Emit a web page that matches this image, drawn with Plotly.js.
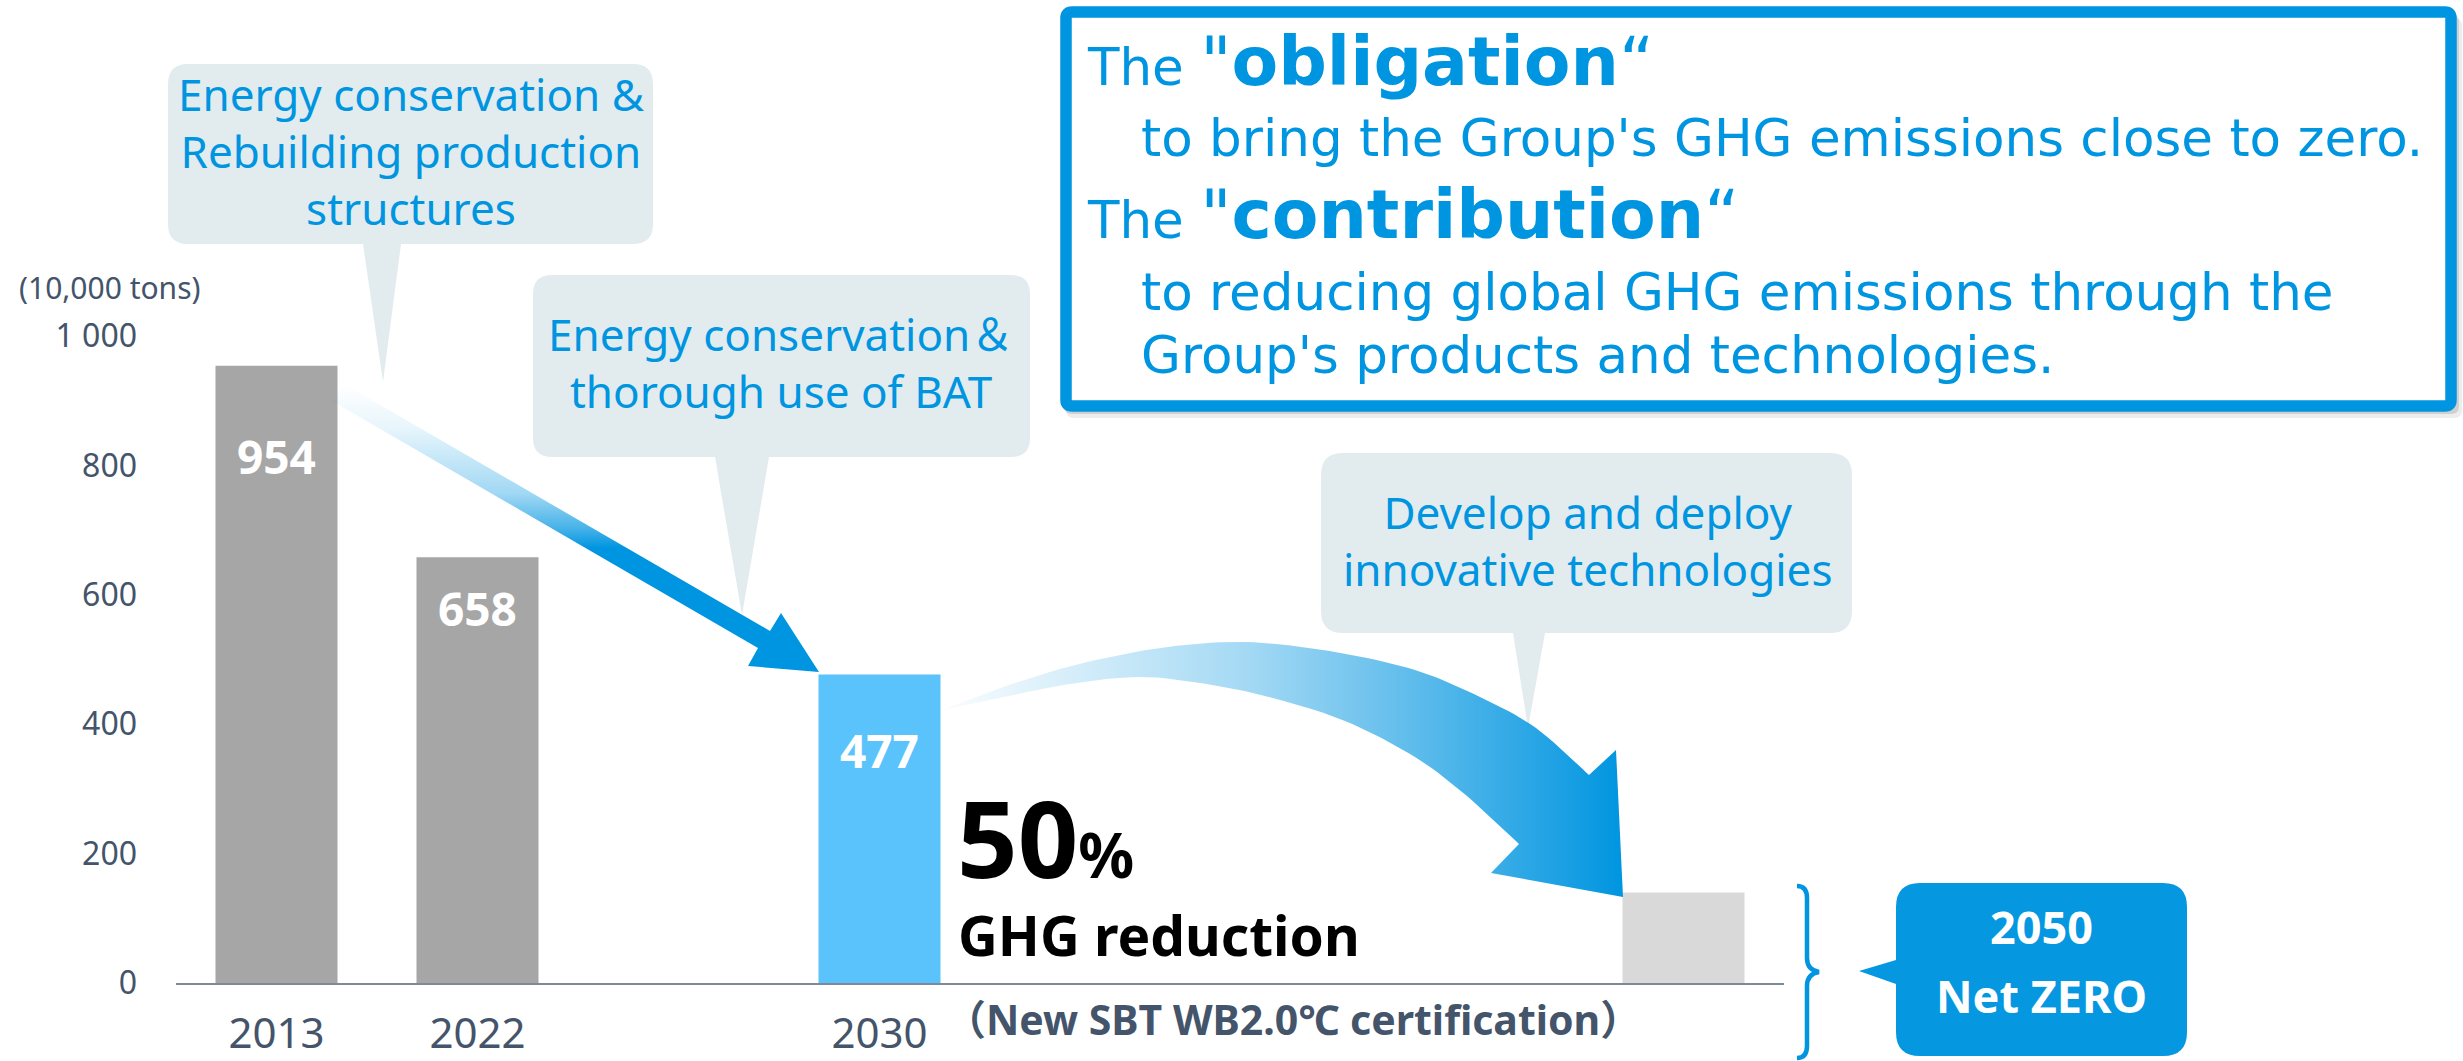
<!DOCTYPE html>
<html>
<head>
<meta charset="utf-8">
<script src="https://cdn.plot.ly/plotly-3.0.1.min.js"></script>
<style>
  html, body { margin: 0; padding: 0; background: #ffffff; }
  #chart { width: 2463px; height: 1061px; }
</style>
</head>
<body>
<div id="chart"></div>
<script>
// ---------------- DATA ----------------
const years = ['2013', '2022', '2030', '2050'];
const emissions = [954, 658, 477, 140];            // 10,000 tons
const valueLabels = ['954', '658', '477', ''];
const yTickVals = [0, 200, 400, 600, 800, 1000];
const yTickText = ['0', '200', '400', '600', '800', '1 000'];
const xTickYears = ['2013', '2022', '2030'];
const unitLabel = '(10,000 tons)';

// ---------------- STYLE ----------------
const W = 2463, H = 1061;
const FONT = 'Noto Sans, Noto Sans CJK JP, sans-serif';
const MSG_FONT = 'DejaVu Sans, Noto Sans, sans-serif';
const BLUE = '#0095e0';
const SLATE = '#44546a';
const CALLOUT = '#e2ecef';
const barColors = ['#a6a6a6', '#a6a6a6', '#5bc3fb', '#d9d9d9'];
const labelDrop = [90, 51, 76, 0];
// category slots (gaps keep the time spacing of the original layout)
const slots = ['2013', '2022', 'gap1', '2030', 'gap2', 'gap3', 'gap4', '2050'];

// ---------------- HELPERS (decoration geometry in pixel space) ----------------
function boxPath(x0, y0, x1, y1, r, tail) {
  let p = `M ${x0 + r} ${y0} L ${x1 - r} ${y0} Q ${x1} ${y0} ${x1} ${y0 + r} ` +
          `L ${x1} ${y1 - r} Q ${x1} ${y1} ${x1 - r} ${y1} `;
  if (tail && tail.side === 'bottom') {
    p += `L ${tail.b} ${y1} L ${tail.tip[0]} ${tail.tip[1]} L ${tail.a} ${y1} `;
  }
  p += `L ${x0 + r} ${y1} Q ${x0} ${y1} ${x0} ${y1 - r} `;
  if (tail && tail.side === 'left') {
    p += `L ${x0} ${tail.b} L ${tail.tip[0]} ${tail.tip[1]} L ${x0} ${tail.a} `;
  }
  p += `L ${x0} ${y0 + r} Q ${x0} ${y0} ${x0 + r} ${y0} Z`;
  return p;
}
function catmull(pts, n) {
  const out = [];
  for (let i = 0; i < pts.length - 1; i++) {
    const p0 = pts[Math.max(i - 1, 0)], p1 = pts[i], p2 = pts[i + 1], p3 = pts[Math.min(i + 2, pts.length - 1)];
    for (let s = 0; s < n; s++) {
      const t = s / n, t2 = t * t, t3 = t2 * t;
      const f = k => 0.5 * ((2 * p1[k]) + (-p0[k] + p2[k]) * t + (2 * p0[k] - 5 * p1[k] + 4 * p2[k] - p3[k]) * t2 + (-p0[k] + 3 * p1[k] - 3 * p2[k] + p3[k]) * t3);
      out.push([f(0), f(1)]);
    }
  }
  out.push(pts[pts.length - 1]);
  return out;
}

// straight arrow 2013 -> 2030
const arrow1 = [[344, 384], [770, 631], [781, 613], [819, 672], [748, 666], [758, 648], [332, 401], [344, 384]];
// curved arrow 2030 -> 2050
const outerEdge = catmull([[942, 710], [1003, 687], [1075, 665], [1160, 648], [1245, 642], [1335, 652], [1415, 670], [1480, 697], [1536, 728], [1589, 775]], 10);
const head2 = [[1616, 750], [1623, 897], [1491, 873]];
const innerEdge = catmull([[1519, 844], [1467, 796], [1415, 757], [1345, 721], [1269, 697], [1200, 683], [1138, 677], [1070, 684], [1003, 697], [942, 710]], 10);
const arrow2 = outerEdge.concat(head2, innerEdge);

const a = (al) => `rgba(0,149,224,${al})`;

// ---------------- TRACES ----------------
const traces = [
  {
    type: 'bar', x: years, y: emissions, width: 0.607,
    marker: { color: barColors, line: { width: 0 } },
    hoverinfo: 'skip', showlegend: false, xaxis: 'x', yaxis: 'y'
  },
  {
    type: 'scatter', mode: 'lines', xaxis: 'x2', yaxis: 'y2',
    x: arrow1.map(p => p[0]), y: arrow1.map(p => p[1]),
    fill: 'toself', line: { width: 0, color: 'rgba(0,0,0,0)' },
    fillgradient: {
      type: 'vertical', start: 384, stop: 672,
      colorscale: [[0, a(0)], [0.15, a(0.09)], [0.38, a(0.37)], [0.5, a(0.72)], [0.57, a(1)], [1, a(1)]]
    },
    hoverinfo: 'skip', showlegend: false
  },
  {
    type: 'scatter', mode: 'lines', xaxis: 'x2', yaxis: 'y2',
    x: arrow2.map(p => p[0]), y: arrow2.map(p => p[1]),
    fill: 'toself', line: { width: 0, color: 'rgba(0,0,0,0)' },
    fillgradient: {
      type: 'horizontal', start: 942, stop: 1623,
      colorscale: [[0, a(0.02)], [0.2, a(0.17)], [0.45, a(0.36)], [0.7, a(0.64)], [1, a(1)]]
    },
    hoverinfo: 'skip', showlegend: false
  }
];

// ---------------- SHAPES ----------------
const px = { xref: 'x2', yref: 'y2', layer: 'below' };
const shapes = [
  // shadow + framed message box
  Object.assign({ type: 'path', path: boxPath(1066, 18, 2462, 418, 8), fillcolor: 'rgba(0,0,0,0.07)', line: { width: 0 } }, px),
  Object.assign({ type: 'path', path: boxPath(1064, 14, 2459, 414, 8), fillcolor: 'rgba(0,0,0,0.12)', line: { width: 0 } }, px),
  Object.assign({ type: 'path', path: boxPath(1066, 12, 2451, 406, 6), fillcolor: '#ffffff', line: { color: BLUE, width: 11.5 } }, px),
  // callouts
  Object.assign({ type: 'path', path: boxPath(168, 64, 653, 244, 20, { side: 'bottom', a: 363, b: 401, tip: [383, 382] }), fillcolor: CALLOUT, line: { width: 0 } }, px),
  Object.assign({ type: 'path', path: boxPath(533, 275, 1030, 457, 19, { side: 'bottom', a: 715, b: 769, tip: [742, 615] }), fillcolor: CALLOUT, line: { width: 0 } }, px),
  Object.assign({ type: 'path', path: boxPath(1321, 453, 1852, 633, 22, { side: 'bottom', a: 1513, b: 1545, tip: [1528, 728] }), fillcolor: CALLOUT, line: { width: 0 } }, px),
  // 2050 net zero badge
  Object.assign({ type: 'path', path: boxPath(1896, 883, 2187, 1056, 24, { side: 'left', a: 960, b: 984, tip: [1859, 971] }), fillcolor: '#0697e1', line: { width: 0 } }, px),
  // curly bracket
  Object.assign({
    type: 'path',
    path: 'M 1797 886 Q 1807 886 1807 898 L 1807 958 Q 1807 970 1819 972 Q 1807 974 1807 986 L 1807 1046 Q 1807 1058 1797 1058',
    fillcolor: 'rgba(0,0,0,0)', line: { color: BLUE, width: 4.5 }
  }, px)
];

// ---------------- ANNOTATIONS ----------------
function pxText(text, x, y, size, color, opts) {
  return Object.assign({
    xref: 'x2', yref: 'y2', x: x, y: y, text: text, showarrow: false,
    xanchor: 'center', yanchor: 'middle', align: 'center',
    font: { family: FONT, size: size, color: color }
  }, opts || {});
}
function msgLine(text, x, y, size) {
  return pxText(text, x, y, size, BLUE, { xanchor: 'left', align: 'left', font: { family: MSG_FONT, size: size, color: BLUE } });
}
const big = 68;
const norm = 51.5;

const annotations = [
  pxText(unitLabel, 110, 287, 30, SLATE),
  pxText('Energy conservation &amp;<br>Rebuilding production<br>structures', 411, 151, 44, BLUE),
  pxText('Energy conservation＆<br>thorough use of BAT', 781, 362, 44, BLUE),
  pxText('Develop and deploy<br>innovative technologies', 1587, 540, 44, BLUE),
  msgLine(`The <span style="font-size:${big}px">"<b>obligation</b>“</span>`, 1085, 61.5, norm),
  msgLine("to bring the Group's GHG emissions close to zero.", 1139, 138, norm),
  msgLine(`The <span style="font-size:${big}px">"<b>contribution</b>“</span>`, 1085, 214.5, norm),
  msgLine('to reducing global GHG emissions through the', 1139, 292, norm),
  msgLine("Group's products and technologies.", 1139, 355, norm),
  pxText('<b><span style="font-size:106px">50</span><span style="font-size:62px">%</span></b>', 955, 837, 106, '#000000', { xanchor: 'left', align: 'left' }),
  pxText('<b>GHG reduction</b>', 1159, 934, 55, '#000000'),
  pxText('<b>（New SBT WB2.0℃ certification）</b>', 1293, 1019, 41, SLATE),
  pxText('<b>2050</b>', 2041, 926, 45, '#ffffff'),
  pxText('<b>Net ZERO</b>', 2041, 995, 45, '#ffffff')
];
years.forEach((yr, i) => {
  if (!valueLabels[i]) return;
  annotations.push({
    xref: 'x', yref: 'y', x: slots.indexOf(yr), y: emissions[i], yshift: -labelDrop[i],
    text: '<b>' + valueLabels[i] + '</b>', showarrow: false,
    xanchor: 'center', yanchor: 'middle',
    font: { family: FONT, size: 46, color: '#ffffff' }
  });
});

// ---------------- LAYOUT ----------------
const layout = {
  width: W, height: H,
  margin: { l: 0, r: 0, t: 0, b: 0, pad: 0 },
  paper_bgcolor: '#ffffff', plot_bgcolor: 'rgba(0,0,0,0)',
  showlegend: false,
  xaxis: {
    domain: [176 / W, 1784 / W], anchor: 'y',
    type: 'category', categoryorder: 'array', categoryarray: slots,
    range: [-0.5, slots.length - 0.5],
    tickmode: 'array', tickvals: xTickYears.map(y => slots.indexOf(y)), ticktext: xTickYears,
    ticks: '', ticklen: 0, ticklabelstandoff: 13,
    tickfont: { family: FONT, size: 42, color: SLATE },
    showline: true, linecolor: '#7f8a99', linewidth: 2,
    showgrid: false, zeroline: false, fixedrange: true
  },
  yaxis: {
    domain: [1 - 983 / H, 1 - 336 / H], anchor: 'x',
    range: [0, 1000],
    tickmode: 'array', tickvals: yTickVals, ticktext: yTickText,
    ticks: '', ticklen: 0, ticklabelstandoff: 38,
    tickfont: { family: FONT, size: 32, color: SLATE },
    showline: false, showgrid: false, zeroline: false, fixedrange: true
  },
  xaxis2: { domain: [0, 1], anchor: 'y2', range: [0, W], visible: false, fixedrange: true },
  yaxis2: { domain: [0, 1], anchor: 'x2', range: [H, 0], visible: false, fixedrange: true },
  shapes: shapes,
  annotations: annotations
};

Plotly.newPlot('chart', traces, layout, { staticPlot: true, displayModeBar: false });
</script>
</body>
</html>
